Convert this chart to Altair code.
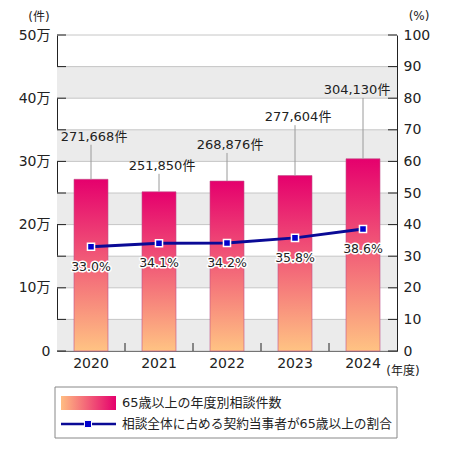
import pandas as pd
import altair as alt

# data
years = ["2020", "2021", "2022", "2023", "2024"]
counts = [271668, 251850, 268876, 277604, 304130]
shares = [33.0, 34.1, 34.2, 35.8, 38.6]
# height (in 件) where each count label sits, with a leader line down to the bar
label_at = [339000, 293000, 326000, 370000, 413000]

count_ticks = list(range(0, 500001, 50000))
share_ticks = list(range(0, 101, 10))
band_starts = [0, 100000, 200000, 300000, 400000]

FONT = "DejaVu Sans, Noto Sans CJK JP"
INK = "#222222"
NAVY = "#0a0a96"
W, H = 340, 316

df = pd.DataFrame({"year": years, "count": counts, "share": shares, "label_at": label_at})
df["count_text"] = [f"{c:,}件" for c in counts]
df["share_text"] = [f"{s:.1f}%" for s in shares]

bands = pd.DataFrame({"start": band_starts})
bands["end"] = bands["start"] + 50000
ticks_df = pd.DataFrame({"v": count_ticks})
one = pd.DataFrame({"k": [0]})

x = alt.X(
    "year:N",
    scale=alt.Scale(paddingInner=0.5, paddingOuter=0.25),
    axis=alt.Axis(title=None, ticks=False, labelAngle=0, labelFontSize=14,
                  labelPadding=5, labelFont=FONT, labelColor=INK, domainColor=INK),
)

y_scale = alt.Scale(domain=[0, 500000], nice=False)
y_axis = alt.Axis(
    title=None, values=count_ticks, ticks=False, grid=False,
    labelExpr="datum.value % 100000 == 0 ? (datum.value == 0 ? '0' : (datum.value / 10000) + '万') : ''",
    labelFontSize=14, labelPadding=7, labelFont=FONT, labelColor=INK, domainColor=INK,
)


def ycount(field):
    return alt.Y(field, scale=y_scale, axis=y_axis)


bar_fill = alt.Gradient(
    gradient="linear",
    stops=[alt.GradientStop(color="#e5006d", offset=0),
           alt.GradientStop(color="#ffc383", offset=1)],
    x1=0, x2=0, y1=0, y2=1,
)
swatch_fill = alt.Gradient(
    gradient="linear",
    stops=[alt.GradientStop(color="#ffbd82", offset=0),
           alt.GradientStop(color="#e5006d", offset=1)],
    x1=0, x2=1, y1=0, y2=0,
)

band_layer = alt.Chart(bands).mark_rect(color="#ebebeb").encode(
    y=ycount("start:Q"), y2="end:Q"
)
grid_layer = alt.Chart(ticks_df).mark_rule(color="#c6c6c6", strokeWidth=1).encode(
    y=ycount("v:Q")
)
bar_layer = alt.Chart(df).mark_bar(
    fill=bar_fill, stroke="#c0508a", strokeWidth=0.6
).encode(x=x, y=ycount("count:Q"))
leader_layer = alt.Chart(df).mark_rule(color="#9a9a9a", strokeWidth=1, y2Offset=8).encode(
    x=x, y=ycount("count:Q"), y2="label_at:Q"
)
count_text = alt.Chart(df).mark_text(
    font=FONT, fontSize=13, color=INK, baseline="middle", dx=3
).encode(x=x, y=ycount("label_at:Q"), text="count_text:N").transform_filter(
    alt.datum.year != "2024"
)
count_text_last = alt.Chart(df).mark_text(
    font=FONT, fontSize=13, color=INK, baseline="middle", dx=-6
).encode(x=x, y=ycount("label_at:Q"), text="count_text:N").transform_filter(
    alt.datum.year == "2024"
)
left_ticks = alt.Chart(ticks_df).mark_rule(color=INK).encode(
    y=ycount("v:Q"), x=alt.value(0), x2=alt.value(9)
)
right_ticks = alt.Chart(ticks_df).mark_rule(color=INK).encode(
    y=ycount("v:Q"), x=alt.value(W - 9), x2=alt.value(W)
)
x_ticks = alt.Chart(pd.DataFrame({"year": years[1:]})).mark_rule(
    color=INK, xOffset=-34
).encode(x=x, y=alt.value(H), y2=alt.value(H - 8))

count_group = alt.layer(
    band_layer, grid_layer, bar_layer, leader_layer, count_text, count_text_last,
    left_ticks, right_ticks, x_ticks,
)

yshare = alt.Y(
    "share:Q",
    scale=alt.Scale(domain=[0, 100], nice=False),
    axis=alt.Axis(orient="right", title=None, values=share_ticks, ticks=False, grid=False,
                  labelFontSize=14, labelPadding=6, labelFont=FONT, labelColor=INK,
                  domainColor=INK),
)
line_layer = alt.Chart(df).mark_line(color=NAVY, strokeWidth=3).encode(x=x, y=yshare)
point_layer = alt.Chart(df).mark_square(
    size=50, filled=True, color="#0000cc", stroke="white", strokeWidth=1.5, opacity=1
).encode(x=x, y=yshare)
halo = alt.Chart(df).mark_text(
    font=FONT, fontSize=12.5, dy=20, color="white", stroke="white", strokeWidth=3,
    strokeJoin="round"
).encode(x=x, y=yshare, text="share_text:N")
share_text = alt.Chart(df).mark_text(
    font=FONT, fontSize=12.5, dy=20, color=INK
).encode(x=x, y=yshare, text="share_text:N")

share_group = alt.layer(line_layer, point_layer, halo, share_text)


def note(label, px, py, size=12, align="center"):
    return alt.Chart(one).mark_text(
        font=FONT, fontSize=size, color=INK, align=align, baseline="middle"
    ).encode(x=alt.value(px), y=alt.value(py), text=alt.value(label))


legend_box = alt.Chart(one).mark_rect(fill="white", stroke="#888888", strokeWidth=1).encode(
    x=alt.value(-2), x2=alt.value(W), y=alt.value(352), y2=alt.value(403)
)
legend_swatch = alt.Chart(one).mark_rect(fill=swatch_fill).encode(
    x=alt.value(4), x2=alt.value(59), y=alt.value(361), y2=alt.value(375)
)
legend_line = alt.Chart(one).mark_rule(color=NAVY, strokeWidth=2.5).encode(
    x=alt.value(4), x2=alt.value(59), y=alt.value(389)
)
legend_mark = alt.Chart(one).mark_square(
    size=50, filled=True, color="#0000cc", stroke="white", strokeWidth=1, opacity=1
).encode(x=alt.value(31), y=alt.value(389))

extras = alt.layer(
    legend_box, legend_swatch, legend_line, legend_mark,
    note("65歳以上の年度別相談件数", 65, 368, 13, "left"),
    note("相談全体に占める契約当事者が65歳以上の割合", 65, 389, 12.7, "left"),
    note("(件)", -18, -18),
    note("(%)", 362, -19),
    note("(年度)", 346, 336),
)

chart = alt.layer(count_group, share_group, extras).resolve_scale(
    y="independent"
).properties(
    width=W,
    height=H,
    autosize=alt.AutoSizeParams(type="none"),
    padding={"left": 49, "top": 27, "right": 45, "bottom": 91},
).configure_view(stroke=None)

chart.save("out.html", embed_options={"renderer": "svg", "actions": False})
